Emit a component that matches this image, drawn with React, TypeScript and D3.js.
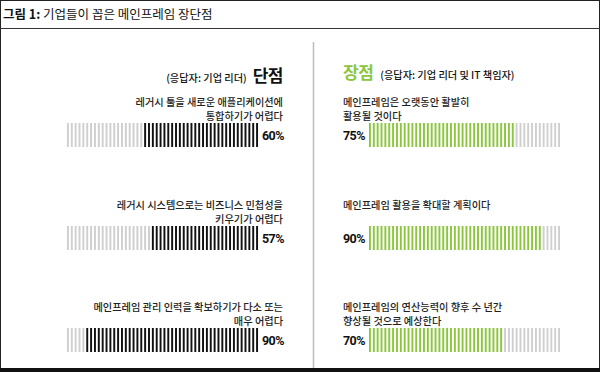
import React from 'react';
import * as d3 from 'd3';

const title = '기업들이 꼽은 메인프레임 장단점';
const consLabels = [
  ['레거시 툴을 새로운 애플리케이션에', '통합하기가 어렵다'],
  ['레거시 시스템으로는 비즈니스 민첩성을', '키우기가 어렵다'],
  ['메인프레임 관리 인력을 확보하기가 다소 또는', '매우 어렵다'],
];
const consValues = [60, 57, 90];
const prosLabels = [
  ['메인프레임은 오랫동안 활발히', '활용될 것이다'],
  ['메인프레임 활용을 확대할 계획이다'],
  ['메인프레임의 연산능력이 향후 수 년간', '향상될 것으로 예상한다'],
];
const prosValues = [75, 90, 70];

const W = 600;
const H = 372;
const FONT = '"Noto Sans CJK KR", "Noto Sans", sans-serif';
const NUMFONT = 'Roboto, "Noto Sans", sans-serif';
const GREEN = '#8cc63f';
const STRIPES = d3.range(50);
const rowBarY = [123, 226, 328];
const barH = 24;

function StripeBar({x0, x1, y, value, fromRight, color}: {x0: number; x1: number; y: number; value: number; fromRight: boolean; color: string}) {
  const band = d3.scaleBand<number>().domain(STRIPES).range([x0, x1]).paddingInner(0.5).paddingOuter(0.25);
  const pct = d3.scaleLinear().domain([0, 100]).range([0, STRIPES.length]);
  const n = pct(value);
  return (
    <g>
      {STRIPES.map(i => {
        const on = fromRight ? i + 0.5 >= STRIPES.length - n : i + 0.5 <= n;
        return (
          <rect key={i} x={band(i)} y={y} width={band.bandwidth()} height={barH}
            fill={on ? color : '#cfcfcf'} />
        );
      })}
    </g>
  );
}

// baseline of label line k (of n lines) above a bar at y
const labelY = (y: number, n: number, k: number) =>
  n === 1 ? y - 17 : y - 3.5 - (n - 1 - k) * 14;

export default function App() {
  return (
    <svg width={W} height={H} style={{position: 'fixed', left: 0, top: 0, background: '#fff'}}>
      <rect x={0.5} y={0.5} width={W - 1} height={H - 1} fill="#fff" stroke="#222" strokeWidth={1} />
      <text x={3} y={19} fontFamily={FONT} fontSize={12.5} fill="#111">
        <tspan fontWeight="bold">그림 1:</tspan> {title}
      </text>
      <line x1={0} x2={W} y1={28.5} y2={28.5} stroke="#333" strokeWidth={1.2} />
      <line x1={313.5} x2={313.5} y1={42} y2={368} stroke="#bdbdbd" strokeWidth={1.5} />
      <rect x={0} y={368} width={W} height={4} fill="#111" />

      {/* 단점 */}
      <text x={283} y={82} textAnchor="end" fontFamily={FONT} fill="#111">
        <tspan fontSize={10.2} fontWeight={500}>(응답자: 기업 리더)</tspan>
        <tspan dx={6} fontSize={17} fontWeight="bold" letterSpacing={-0.5}>단점</tspan>
      </text>
      {consLabels.map((lines, r) => (
        <g key={r}>
          {lines.map((t, k) => (
            <text key={k} x={283} y={labelY(rowBarY[r], lines.length, k)}
              textAnchor="end" fontFamily={FONT} fontSize={10.2} fontWeight={500} fill="#222">{t}</text>
          ))}
          <StripeBar x0={66} x1={259} y={rowBarY[r]} value={consValues[r]} fromRight color="#111" />
          <text x={262} y={rowBarY[r] + 17} fontFamily={NUMFONT} fontWeight="bold" fontSize={12.5}
            letterSpacing={-0.6} fill="#111">{consValues[r]}%</text>
        </g>
      ))}

      {/* 장점 */}
      <text x={343} y={79} fontFamily={FONT} fill="#111">
        <tspan fontSize={17} fontWeight="bold" fill={GREEN} letterSpacing={-0.5}>장점</tspan>
        <tspan dx={7} fontSize={10.2} fontWeight={500}>(응답자: 기업 리더 및 IT 책임자)</tspan>
      </text>
      {prosLabels.map((lines, r) => (
        <g key={r}>
          {lines.map((t, k) => (
            <text key={k} x={343} y={labelY(rowBarY[r], lines.length, k)}
              fontFamily={FONT} fontSize={10.2} fontWeight={500} fill="#222">{t}</text>
          ))}
          <StripeBar x0={368} x1={561} y={rowBarY[r]} value={prosValues[r]} fromRight={false} color={GREEN} />
          <text x={343} y={rowBarY[r] + 17} fontFamily={NUMFONT} fontWeight="bold" fontSize={12.5}
            letterSpacing={-0.6} fill="#111">{prosValues[r]}%</text>
        </g>
      ))}
    </svg>
  );
}
